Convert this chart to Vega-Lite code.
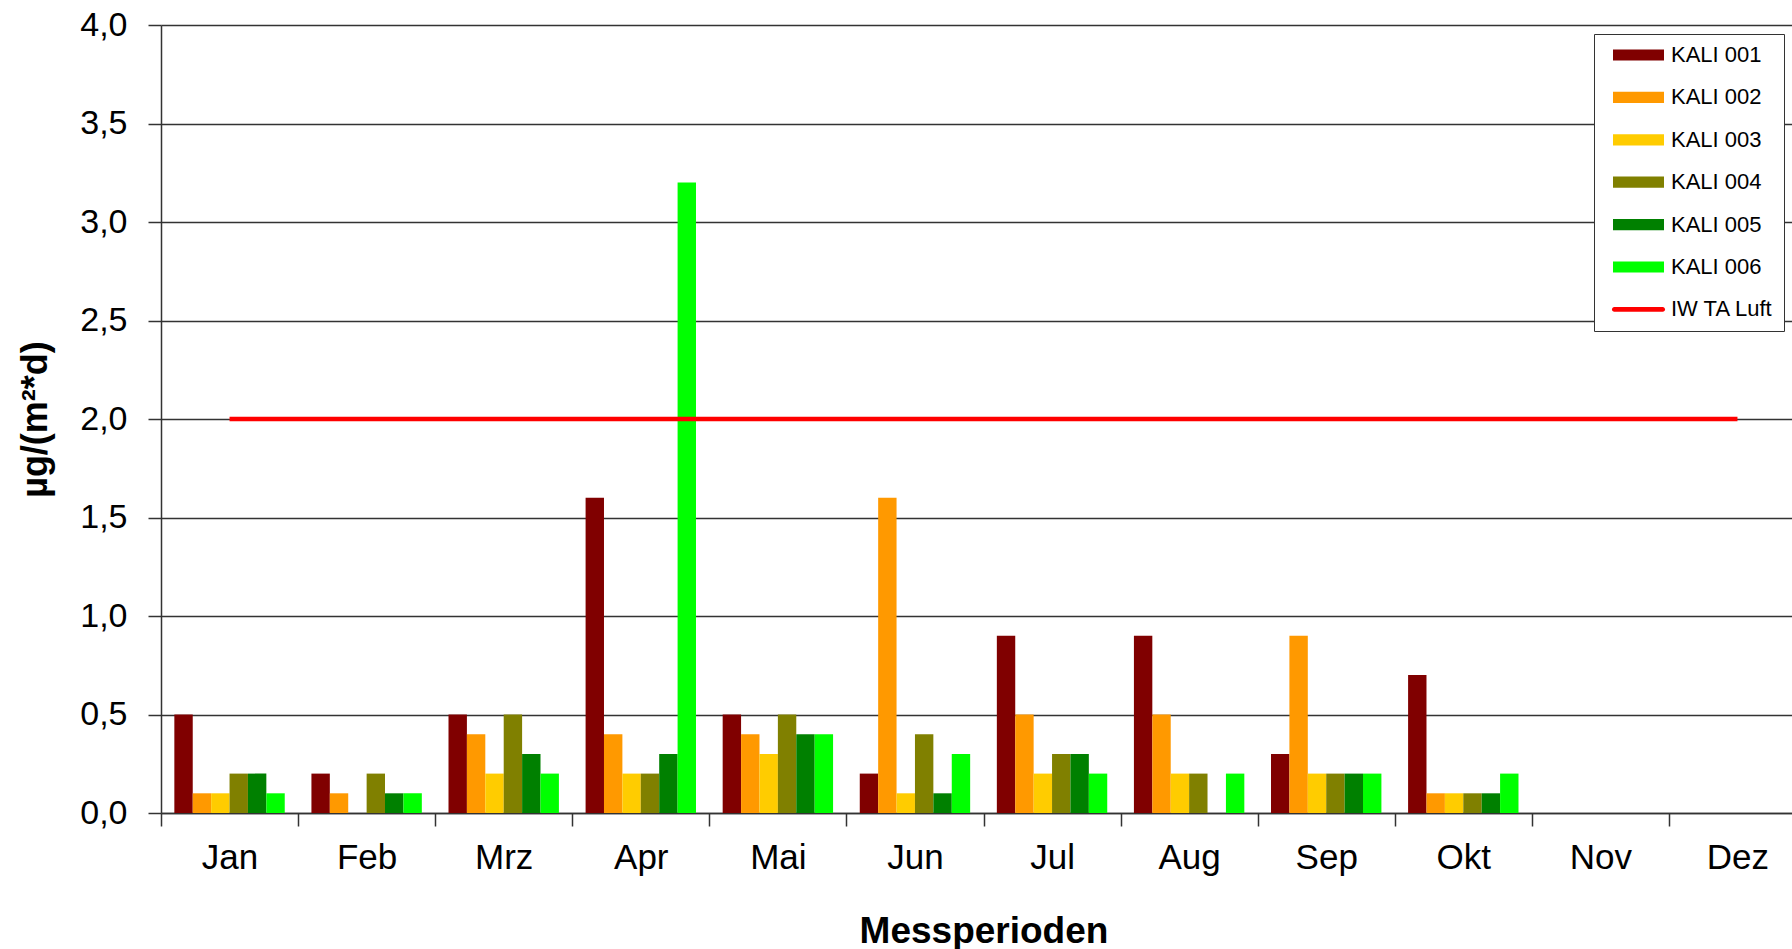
{
  "$schema": "https://vega.github.io/schema/vega-lite/v6.json",
  "autosize": {"type": "none"},
  "padding": {"left": 161, "top": 25, "right": 0, "bottom": 136},
  "width": 1631,
  "height": 788,
  "background": "white",
  "config": {"view": {"stroke": null}, "font": "Liberation Sans"},
  "datasets": {
    "messung": [
      {"Monat": "Jan", "Station": "KALI 001", "Wert": 0.5},
      {"Monat": "Jan", "Station": "KALI 002", "Wert": 0.1},
      {"Monat": "Jan", "Station": "KALI 003", "Wert": 0.1},
      {"Monat": "Jan", "Station": "KALI 004", "Wert": 0.2},
      {"Monat": "Jan", "Station": "KALI 005", "Wert": 0.2},
      {"Monat": "Jan", "Station": "KALI 006", "Wert": 0.1},
      {"Monat": "Feb", "Station": "KALI 001", "Wert": 0.2},
      {"Monat": "Feb", "Station": "KALI 002", "Wert": 0.1},
      {"Monat": "Feb", "Station": "KALI 004", "Wert": 0.2},
      {"Monat": "Feb", "Station": "KALI 005", "Wert": 0.1},
      {"Monat": "Feb", "Station": "KALI 006", "Wert": 0.1},
      {"Monat": "Mrz", "Station": "KALI 001", "Wert": 0.5},
      {"Monat": "Mrz", "Station": "KALI 002", "Wert": 0.4},
      {"Monat": "Mrz", "Station": "KALI 003", "Wert": 0.2},
      {"Monat": "Mrz", "Station": "KALI 004", "Wert": 0.5},
      {"Monat": "Mrz", "Station": "KALI 005", "Wert": 0.3},
      {"Monat": "Mrz", "Station": "KALI 006", "Wert": 0.2},
      {"Monat": "Apr", "Station": "KALI 001", "Wert": 1.6},
      {"Monat": "Apr", "Station": "KALI 002", "Wert": 0.4},
      {"Monat": "Apr", "Station": "KALI 003", "Wert": 0.2},
      {"Monat": "Apr", "Station": "KALI 004", "Wert": 0.2},
      {"Monat": "Apr", "Station": "KALI 005", "Wert": 0.3},
      {"Monat": "Apr", "Station": "KALI 006", "Wert": 3.2},
      {"Monat": "Mai", "Station": "KALI 001", "Wert": 0.5},
      {"Monat": "Mai", "Station": "KALI 002", "Wert": 0.4},
      {"Monat": "Mai", "Station": "KALI 003", "Wert": 0.3},
      {"Monat": "Mai", "Station": "KALI 004", "Wert": 0.5},
      {"Monat": "Mai", "Station": "KALI 005", "Wert": 0.4},
      {"Monat": "Mai", "Station": "KALI 006", "Wert": 0.4},
      {"Monat": "Jun", "Station": "KALI 001", "Wert": 0.2},
      {"Monat": "Jun", "Station": "KALI 002", "Wert": 1.6},
      {"Monat": "Jun", "Station": "KALI 003", "Wert": 0.1},
      {"Monat": "Jun", "Station": "KALI 004", "Wert": 0.4},
      {"Monat": "Jun", "Station": "KALI 005", "Wert": 0.1},
      {"Monat": "Jun", "Station": "KALI 006", "Wert": 0.3},
      {"Monat": "Jul", "Station": "KALI 001", "Wert": 0.9},
      {"Monat": "Jul", "Station": "KALI 002", "Wert": 0.5},
      {"Monat": "Jul", "Station": "KALI 003", "Wert": 0.2},
      {"Monat": "Jul", "Station": "KALI 004", "Wert": 0.3},
      {"Monat": "Jul", "Station": "KALI 005", "Wert": 0.3},
      {"Monat": "Jul", "Station": "KALI 006", "Wert": 0.2},
      {"Monat": "Aug", "Station": "KALI 001", "Wert": 0.9},
      {"Monat": "Aug", "Station": "KALI 002", "Wert": 0.5},
      {"Monat": "Aug", "Station": "KALI 003", "Wert": 0.2},
      {"Monat": "Aug", "Station": "KALI 004", "Wert": 0.2},
      {"Monat": "Aug", "Station": "KALI 006", "Wert": 0.2},
      {"Monat": "Sep", "Station": "KALI 001", "Wert": 0.3},
      {"Monat": "Sep", "Station": "KALI 002", "Wert": 0.9},
      {"Monat": "Sep", "Station": "KALI 003", "Wert": 0.2},
      {"Monat": "Sep", "Station": "KALI 004", "Wert": 0.2},
      {"Monat": "Sep", "Station": "KALI 005", "Wert": 0.2},
      {"Monat": "Sep", "Station": "KALI 006", "Wert": 0.2},
      {"Monat": "Okt", "Station": "KALI 001", "Wert": 0.7},
      {"Monat": "Okt", "Station": "KALI 002", "Wert": 0.1},
      {"Monat": "Okt", "Station": "KALI 003", "Wert": 0.1},
      {"Monat": "Okt", "Station": "KALI 004", "Wert": 0.1},
      {"Monat": "Okt", "Station": "KALI 005", "Wert": 0.1},
      {"Monat": "Okt", "Station": "KALI 006", "Wert": 0.2}
    ],
    "grenzwert": [
      {"Monat": "Jan", "Wert": 2.0},
      {"Monat": "Feb", "Wert": 2.0},
      {"Monat": "Mrz", "Wert": 2.0},
      {"Monat": "Apr", "Wert": 2.0},
      {"Monat": "Mai", "Wert": 2.0},
      {"Monat": "Jun", "Wert": 2.0},
      {"Monat": "Jul", "Wert": 2.0},
      {"Monat": "Aug", "Wert": 2.0},
      {"Monat": "Sep", "Wert": 2.0},
      {"Monat": "Okt", "Wert": 2.0},
      {"Monat": "Nov", "Wert": 2.0},
      {"Monat": "Dez", "Wert": 2.0}
    ]
  },
  "layer": [
    {
      "data": {"name": "messung"},
      "mark": {"type": "bar"},
      "encoding": {
        "x": {
          "field": "Monat",
          "type": "nominal",
          "sort": ["Jan", "Feb", "Mrz", "Apr", "Mai", "Jun", "Jul", "Aug", "Sep", "Okt", "Nov", "Dez"],
          "scale": {
            "domain": ["Jan", "Feb", "Mrz", "Apr", "Mai", "Jun", "Jul", "Aug", "Sep", "Okt", "Nov", "Dez"],
            "range": [0, 1645],
            "paddingInner": 0,
            "paddingOuter": 0
          },
          "axis": {
            "title": "Messperioden",
            "titleFontSize": 37,
            "titleFontWeight": "bold",
            "titleColor": "black",
            "titleY": 129,
            "titleBaseline": "alphabetic",
            "labelFontSize": 35,
            "labelColor": "black",
            "labelPadding": 14,
            "labelAngle": 0,
            "tickBand": "extent",
            "tickSize": 13,
            "tickColor": "#333333",
            "tickWidth": 1.5,
            "domainColor": "#333333",
            "domainWidth": 1.5,
            "grid": false
          }
        },
        "xOffset": {
          "field": "Station",
          "type": "nominal",
          "scale": {
            "domain": ["KALI 001", "KALI 002", "KALI 003", "KALI 004", "KALI 005", "KALI 006"],
            "paddingInner": 0,
            "paddingOuter": 0.725
          }
        },
        "y": {
          "field": "Wert",
          "type": "quantitative",
          "scale": {"domain": [0, 4], "nice": false},
          "axis": {
            "title": "µg/(m²*d)",
            "titleFontSize": 36,
            "titleFontWeight": "bold",
            "titleColor": "black",
            "titleX": -126,
            "titleBaseline": "middle",
            "values": [0, 0.5, 1, 1.5, 2, 2.5, 3, 3.5, 4],
            "labelExpr": "replace(format(datum.value, '.1f'), '.', ',')",
            "labelFontSize": 34,
            "labelColor": "black",
            "labelPadding": 21,
            "tickSize": 13,
            "tickColor": "#333333",
            "tickWidth": 1.5,
            "grid": true,
            "gridColor": "#333333",
            "gridWidth": 1.5,
            "domainColor": "#333333",
            "domainWidth": 1.5
          }
        },
        "color": {
          "field": "Station",
          "type": "nominal",
          "scale": {
            "domain": ["KALI 001", "KALI 002", "KALI 003", "KALI 004", "KALI 005", "KALI 006", "IW TA Luft"],
            "range": ["#800000", "#FF9900", "#FFCC00", "#808000", "#008000", "#00FF00", "#FF0000"]
          },
          "legend": {
            "title": null,
            "orient": "none",
            "legendX": 1433,
            "legendY": 9,
            "strokeColor": "#333333",
            "fillColor": "white",
            "padding": 10,
            "symbolType": "M-1,-0.22H1V0.22H-1Z",
            "symbolSize": 2601,
            "symbolOffset": 9,
            "symbolStrokeWidth": 0,
            "labelFontSize": 22,
            "labelColor": "black",
            "labelOffset": 7,
            "clipHeight": 22,
            "rowPadding": 20.4,
            "encode": {
              "symbols": {
                "update": {
                  "shape": {"signal": "datum.label === 'IW TA Luft' ? 'M-0.95,-0.09H0.95A0.09,0.09,0,0,1,0.95,0.09H-0.95A0.09,0.09,0,0,1,-0.95,-0.09Z' : 'M-1,-0.22H1V0.22H-1Z'"}
                }
              }
            }
          }
        }
      }
    },
    {
      "data": {"name": "grenzwert"},
      "mark": {"type": "line", "color": "#FF0000", "strokeWidth": 4.5},
      "encoding": {
        "x": {"field": "Monat", "type": "nominal", "sort": ["Jan", "Feb", "Mrz", "Apr", "Mai", "Jun", "Jul", "Aug", "Sep", "Okt", "Nov", "Dez"]},
        "y": {"field": "Wert", "type": "quantitative"}
      }
    }
  ]
}
